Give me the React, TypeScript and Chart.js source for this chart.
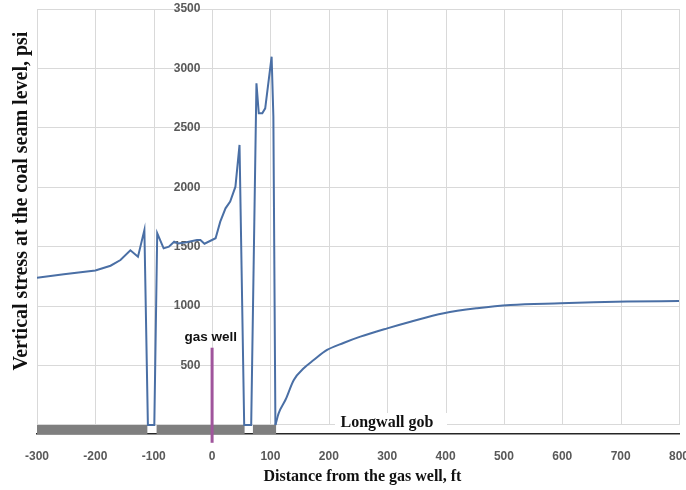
import React, { useEffect, useRef } from 'react';
import { Chart, registerables } from 'chart.js';

Chart.register(...registerables);

// Vertical stress near the well and over the pillars (distance from gas well, ft -> stress, psi)
const distanceFt = [
  -300, -254, -200, -174, -157, -140, -127, -116, -110, -99, -94, -83, -74, -65, -58, -46, -26, -20, -13,
  6, 14, 23, 31, 40, 47, 55, 67, 76, 80, 86, 91, 102, 105, 108.5,
];
const stressPsi = [
  1239, 1268, 1300, 1340, 1388, 1470, 1416, 1640, 0, 0, 1613, 1486, 1500, 1542, 1528, 1535, 1556, 1556, 1525,
  1571, 1711, 1823, 1879, 2005, 2356, 0, 0, 2875, 2622, 2622, 2664, 3099, 2594, 0,
];

// Stress recovery over the longwall gob (smoothed curve in the original)
const gobDistanceFt = [108.5, 114, 126, 140, 157, 174, 197, 225, 254, 300, 340, 397, 454, 511, 597, 654, 711, 800];
const gobStressPsi = [0, 98, 214, 379, 477, 546, 631, 690, 743, 813, 869, 940, 982, 1010, 1024, 1032, 1038, 1043];

// Gray pillar / solid coal segments along the seam (ft)
const segStart = [-300, -95.5, 69.6];
const segEnd = [-110.5, 56, 110];

// Gas well marker
const wellX = 0;
const wellFrom = -150;
const wellTo = 650;

const xTicks = [-300, -200, -100, 0, 100, 200, 300, 400, 500, 600, 700, 800];
const yTicks = [0, 500, 1000, 1500, 2000, 2500, 3000, 3500];

const yTitle = 'Vertical stress at the coal seam level, psi';
const xTitle = 'Distance from the gas well, ft';
const wellLabel = 'gas well';
const gobLabel = 'Longwall gob';

export default function App() {
  const ref = useRef<HTMLCanvasElement>(null);

  useEffect(() => {
    document.body.style.margin = '0';
    const canvas = ref.current;
    if (!canvas) return;

    const textPlugin = {
      id: 'extras',
      beforeDatasetsDraw(chart: any) {
        const { ctx, scales } = chart;
        const xs = scales.x;
        const ys = scales.y;
        ctx.save();
        ctx.strokeStyle = '#d9d9d9';
        ctx.lineWidth = 1;
        const top = ys.getPixelForValue(yTicks[yTicks.length - 1]);
        const bottom = ys.getPixelForValue(0);
        xTicks.forEach((v) => {
          const px = Math.round(xs.getPixelForValue(v)) + 0.5;
          ctx.beginPath();
          ctx.moveTo(px, top);
          ctx.lineTo(px, bottom);
          ctx.stroke();
        });
        ctx.restore();
      },
      afterDraw(chart: any) {
        const { ctx } = chart;
        ctx.save();
        ctx.fillStyle = '#111';
        ctx.font = 'bold 20px "Liberation Serif", "Times New Roman", serif';
        ctx.textAlign = 'center';
        ctx.textBaseline = 'middle';
        ctx.save();
        ctx.translate(22, 201);
        ctx.rotate(-Math.PI / 2);
        ctx.fillText(yTitle, 0, 0);
        ctx.restore();
        ctx.font = 'bold 16px "Liberation Serif", "Times New Roman", serif';
        ctx.fillText(xTitle, 362.5, 477);
        ctx.fillStyle = '#ffffff';
        ctx.fillRect(335, 413, 112, 20);
        ctx.fillStyle = '#111';
        ctx.fillText(gobLabel, 387, 422.5);
        ctx.font = 'bold 13.5px "Liberation Sans", Arial, sans-serif';
        ctx.fillText(wellLabel, 210.7, 337.5);
        ctx.restore();
      },
    };

    const lineData = distanceFt.map((x, i) => ({ x, y: stressPsi[i] }));
    const gobData = gobDistanceFt.map((x, i) => ({ x, y: gobStressPsi[i] }));
    const segDatasets = segStart.map((s, i) => ({
      type: 'line' as const,
      data: [
        { x: s, y: 0 },
        { x: segEnd[i], y: 0 },
      ],
      fill: 'start',
      backgroundColor: '#7f7f7f',
      borderWidth: 0,
      borderColor: 'rgba(0,0,0,0)',
      pointRadius: 0,
      order: 4,
    }));

    const chart = new Chart(canvas, {
      type: 'line',
      data: {
        datasets: [
          {
            data: [
              { x: wellX, y: wellFrom },
              { x: wellX, y: wellTo },
            ],
            borderColor: '#a0559c',
            borderWidth: 3,
            pointRadius: 0,
            clip: false,
            order: 1,
          } as any,
          {
            data: lineData,
            borderColor: '#4a6fa5',
            borderWidth: 2,
            pointRadius: 0,
            tension: 0,
            order: 2,
          },
          {
            data: gobData,
            borderColor: '#4a6fa5',
            borderWidth: 2,
            pointRadius: 0,
            cubicInterpolationMode: 'monotone',
            order: 3,
          },
          ...segDatasets,
        ],
      },
      options: {
        animation: false,
        responsive: false,
        events: [],
        layout: { padding: { left: 37, right: 7, top: 9, bottom: 0 } },
        plugins: { legend: { display: false }, tooltip: { enabled: false } },
        scales: {
          x: {
            type: 'linear',
            min: -300,
            max: 800,
            afterBuildTicks: (s: any) => {
              s.ticks = xTicks.map((value) => ({ value }));
            },
            afterFit: (s: any) => {
              s.height = 56;
              s.paddingLeft = 0;
              s.paddingRight = 0;
            },
            grid: { display: false },
            border: { display: true, color: '#262626', width: 1.5 },
            ticks: {
              color: '#595959',
              font: { family: '"Liberation Sans", Arial, sans-serif', weight: 'bold', size: 12 },
              padding: 7,
              maxRotation: 0,
              autoSkip: false,
              callback: (v: any) => String(v),
            },
          },
          y: {
            type: 'linear',
            min: -76,
            max: 3500,
            position: { x: -20 } as any,
            afterBuildTicks: (s: any) => {
              s.ticks = yTicks.map((value) => ({ value }));
            },
            grid: { color: '#d9d9d9', lineWidth: 1, drawTicks: false },
            border: { display: false },
            ticks: {
              color: '#595959',
              font: { family: '"Liberation Sans", Arial, sans-serif', weight: 'bold', size: 12 },
              padding: 0,
              callback: (v: any) => (v === 0 ? '' : String(v)),
            },
          },
        },
      } as any,
      plugins: [textPlugin],
    });

    return () => chart.destroy();
  }, []);

  return (
    <div style={{ width: 686, height: 490 }}>
      <canvas ref={ref} width={686} height={490} style={{ display: 'block' }} />
    </div>
  );
}
